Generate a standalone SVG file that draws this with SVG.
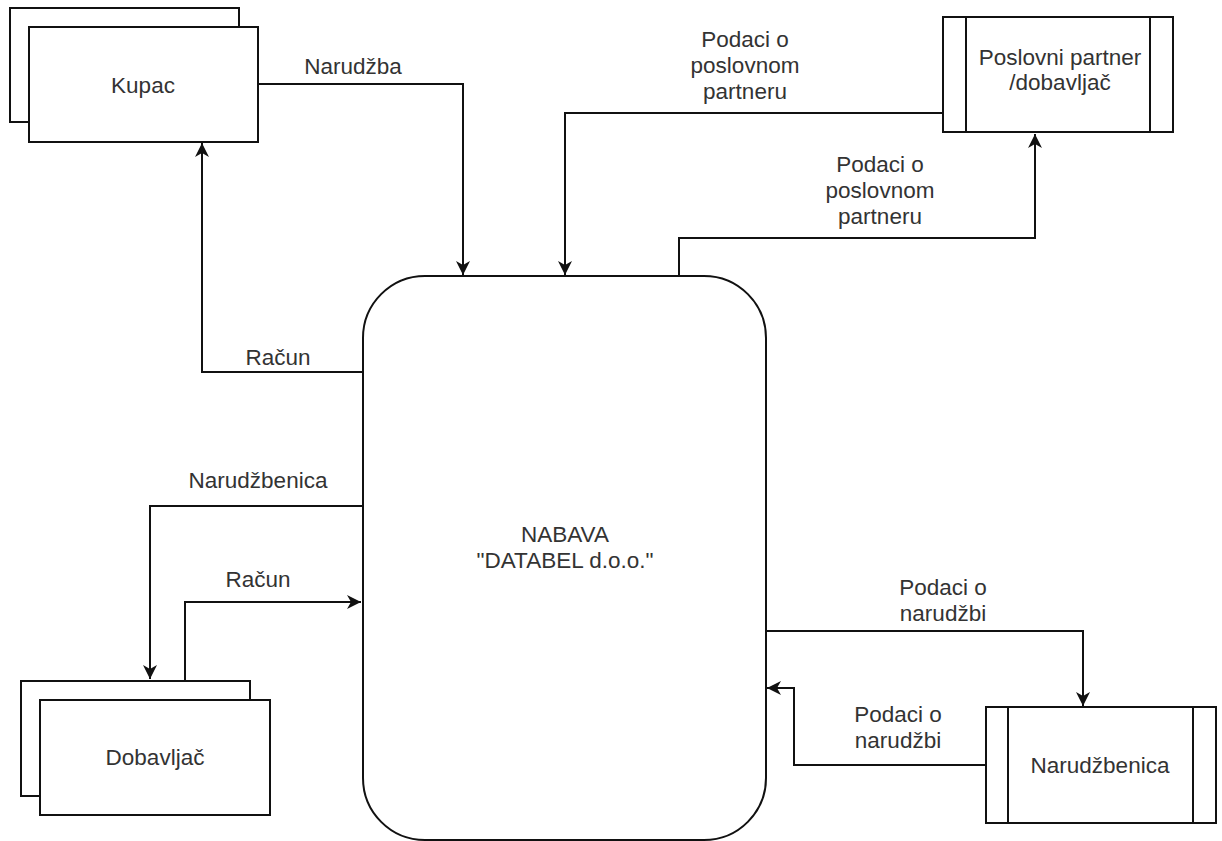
<svg xmlns="http://www.w3.org/2000/svg" width="1222" height="841" viewBox="0 0 1222 841">
  <style>
    .box { fill: #ffffff; stroke: #111111; stroke-width: 2; }
    .edge { fill: none; stroke: #111111; stroke-width: 2; }
    text { font-family: "Liberation Sans", Arial, sans-serif; font-size: 22.5px; fill: #333333; text-anchor: middle; }
  </style>
  <defs>
    <marker id="arrow" markerUnits="userSpaceOnUse" markerWidth="18" markerHeight="18" viewBox="-15 -9 17 18" refX="0" refY="0" orient="auto">
      <path d="M0,0 L-14,-7 L-10,0 L-14,7 Z" fill="#111111" stroke="none"/>
    </marker>
  </defs>
  <rect width="1222" height="841" fill="#ffffff"/>

  <g id="connectors">
    <g id="e-narudzba">
      <path class="edge" d="M258,84 H463 V275" marker-end="url(#arrow)"/>
      <text x="353" y="74">Narudžba</text>
    </g>
    <g id="e-racun-kupac">
      <path class="edge" d="M362,372 H202 V143" marker-end="url(#arrow)"/>
      <text x="278" y="365">Račun</text>
    </g>
    <g id="e-partner-in">
      <path class="edge" d="M943,113 H565 V275" marker-end="url(#arrow)"/>
      <text x="745" y="47">Podaci o</text>
      <text x="745" y="73">poslovnom</text>
      <text x="745" y="99">partneru</text>
    </g>
    <g id="e-partner-out">
      <path class="edge" d="M679,276 V238 H1035 V134" marker-end="url(#arrow)"/>
      <text x="880" y="172">Podaci o</text>
      <text x="880" y="198">poslovnom</text>
      <text x="880" y="224">partneru</text>
    </g>
    <g id="e-narudzbenica-dob">
      <path class="edge" d="M362,506 H150 V679" marker-end="url(#arrow)"/>
      <text x="258" y="488">Narudžbenica</text>
    </g>
    <g id="e-racun-dob">
      <path class="edge" d="M185,681 V602 H361" marker-end="url(#arrow)"/>
      <text x="258" y="587">Račun</text>
    </g>
    <g id="e-narudzbi-out">
      <path class="edge" d="M766,631 H1083 V706" marker-end="url(#arrow)"/>
      <text x="943" y="595">Podaci o</text>
      <text x="943" y="621">narudžbi</text>
    </g>
    <g id="e-narudzbi-in">
      <path class="edge" d="M986,765 H794 V688 H767" marker-end="url(#arrow)"/>
      <text x="898" y="722">Podaci o</text>
      <text x="898" y="748">narudžbi</text>
    </g>
  </g>

  <g id="kupac">
    <rect class="box" x="10" y="8" width="229" height="114"/>
    <rect class="box" x="29" y="27" width="229" height="115"/>
    <text x="143" y="93">Kupac</text>
  </g>

  <g id="nabava">
    <rect class="box" x="363" y="276" width="403" height="564" rx="62" ry="62"/>
    <text x="565" y="542">NABAVA</text>
    <text x="565" y="568">"DATABEL d.o.o."</text>
  </g>

  <g id="poslovni-partner">
    <rect class="box" x="943" y="17" width="230" height="115"/>
    <line class="edge" x1="966" y1="17" x2="966" y2="132"/>
    <line class="edge" x1="1150" y1="17" x2="1150" y2="132"/>
    <text x="1060" y="65">Poslovni partner</text>
    <text x="1060" y="90">/dobavljač</text>
  </g>

  <g id="dobavljac">
    <rect class="box" x="21" y="681" width="229" height="115"/>
    <rect class="box" x="40" y="700" width="230" height="115"/>
    <text x="155" y="765">Dobavljač</text>
  </g>

  <g id="narudzbenica">
    <rect class="box" x="986" y="707" width="230" height="116"/>
    <line class="edge" x1="1008" y1="707" x2="1008" y2="823"/>
    <line class="edge" x1="1193" y1="707" x2="1193" y2="823"/>
    <text x="1100" y="773">Narudžbenica</text>
  </g>
</svg>
